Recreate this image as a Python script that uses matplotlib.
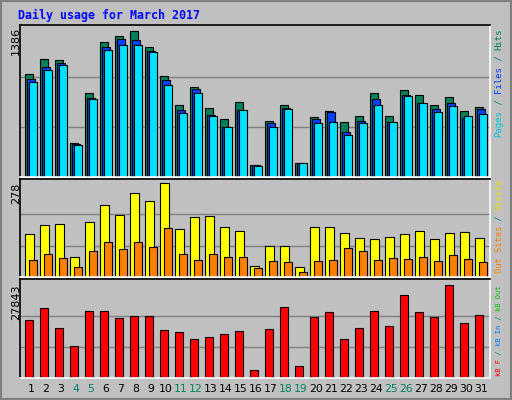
import matplotlib
matplotlib.use("Agg")
import matplotlib.pyplot as plt
import numpy as np

days = [str(d) for d in range(1, 32)]
weekend = {4, 5, 11, 12, 18, 19, 25, 26}
hits = [955, 1093, 1084, 316, 774, 1246, 1301, 1347, 1200, 938, 664, 837, 637, 536, 691, 112, 518, 664, 131, 554, 609, 508, 563, 774, 563, 807, 762, 664, 737, 609, 646]
files = [911, 1017, 1054, 308, 734, 1200, 1273, 1264, 1164, 898, 618, 819, 573, 463, 618, 109, 497, 637, 131, 536, 600, 417, 515, 725, 508, 762, 682, 628, 682, 542, 628]
pages = [880, 990, 1036, 296, 725, 1173, 1225, 1225, 1154, 853, 591, 779, 561, 463, 618, 103, 463, 628, 131, 497, 506, 387, 497, 670, 508, 752, 682, 600, 655, 561, 579]
visits = [127, 154, 157, 60, 163, 211, 184, 248, 223, 278, 142, 178, 181, 148, 136, 33, 91, 91, 30, 148, 148, 130, 115, 112, 118, 127, 136, 112, 130, 133, 115]
sites = [51, 67, 57, 30, 76, 103, 82, 103, 88, 145, 67, 51, 67, 60, 60, 27, 48, 45, 15, 48, 51, 85, 76, 51, 57, 54, 60, 48, 64, 54, 45]
kbytes = [17174, 20832, 15040, 9552, 19917, 19917, 17784, 18394, 18394, 14430, 13820, 11687, 12297, 13211, 14126, 2236, 14735, 21137, 3455, 18089, 19613, 11687, 15040, 19917, 15650, 24795, 19613, 18089, 27843, 16260, 18699]

BG = "#C0C0C0"
fig = plt.figure(figsize=(5.12, 4.0), dpi=100, facecolor=BG)
W, H = 512, 400
fig.patches.append(plt.Rectangle((0, 0), 1, 1, transform=fig.transFigure, fill=False,
                                 edgecolor="#808080", linewidth=3))

def mkax(top, bottom):
    ax = fig.add_axes([20 / W, 1 - bottom / H, 470 / W, (bottom - top) / H])
    ax.set_facecolor(BG)
    ax.set_xlim(-0.33, 31)
    ax.set_xticks([]); ax.set_yticks([])
    for s in ["top", "left"]:
        ax.spines[s].set_color("black")
    for s in ["bottom", "right"]:
        ax.spines[s].set_color("white")
    for sp in ax.spines.values():
        sp.set_linewidth(1.2)
    return ax

x = np.arange(31)
ax1 = mkax(25, 177)
for g in [1386 / 3, 2 * 1386 / 3]:
    ax1.axhline(g, color="#808080", lw=1, zorder=0)
bw = 0.53
ax1.bar(x, hits, width=bw, align="edge", color="#00805C", edgecolor="black", lw=0.8)
ax1.bar(x + 0.133, files, width=bw, align="edge", color="#0040FF", edgecolor="black", lw=0.8)
ax1.bar(x + 0.267, pages, width=bw, align="edge", color="#00E0FF", edgecolor="black", lw=0.8)
ax1.set_ylim(0, 1386 * 1.015)

ax2 = mkax(179, 277)
for g in [278 / 3, 2 * 278 / 3]:
    ax2.axhline(g, color="#808080", lw=1, zorder=0)
ax2.bar(x, visits, width=0.57, align="edge", color="#FFFF00", edgecolor="black", lw=0.8)
ax2.bar(x + 0.267, sites, width=0.53, align="edge", color="#FF8000", edgecolor="black", lw=0.8)
ax2.set_ylim(0, 278 * 1.04)

ax3 = mkax(279, 378)
for g in [27843 / 3, 2 * 27843 / 3]:
    ax3.axhline(g, color="#808080", lw=1, zorder=0)
ax3.bar(x, kbytes, width=0.53, align="edge", color="#FF0000", edgecolor="black", lw=0.8)
ax3.set_ylim(0, 27843 * 1.06)

def px(xp, yp):
    return xp / W, 1 - yp / H

fig.text(*px(18, 15), "Daily usage for March 2017", color="#0000FF", family="DejaVu Sans Mono",
         weight="bold", fontsize=8.4, va="center", ha="left")

for ytop, lab in [(27, "1386"), (183, "278"), (284, "27843")]:
    fig.text(*px(16, ytop), lab, rotation=90, ha="center", va="top", fontsize=8, color="black")

def vlabel(ybottom, ytop, pieces, xpos=499):
    n = sum(len(t) for t, _ in pieces)
    adv = (ybottom - ytop) / n
    fs = adv / 0.602 / (100 / 72)
    y = ybottom
    for txt, col in pieces:
        fig.text(*px(xpos, y), txt, rotation=90, ha="center", va="bottom",
                 family="DejaVu Sans Mono", fontsize=fs, color=col)
        y -= adv * len(txt)

vlabel(137, 28, [("Pages", "#00C8E0"), (" / ", "#008080"), ("Files", "#0040FF"), (" / ", "#008080"), ("Hits", "#00805C")])
vlabel(273, 178, [("Out Sites", "#FF8000"), (" / ", "#008080"), ("Visits", "#E0E000")])
vlabel(376, 285, [("kB F", "#FF0000"), (" / ", "#008080"), ("kB In", "#0080FF"), (" / ", "#008080"), ("kB Out", "#00C000")])

for i, d in enumerate(days):
    col = "#008060" if (i + 1) in weekend else "black"
    fig.text(*px(25 + i * 15 + 6, 389), d, ha="center", va="center", fontsize=7.8, color=col)

fig.savefig("out.png", dpi=100, facecolor=BG)
